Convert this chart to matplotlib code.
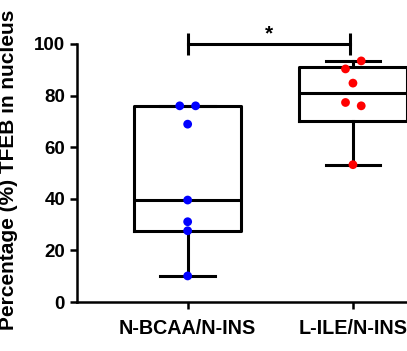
import numpy as np
import matplotlib
matplotlib.use('Agg')
import matplotlib.pyplot as plt

plt.rcParams['font.family'] = ['Liberation Sans', 'DejaVu Sans']
plt.rcParams['font.weight'] = 'bold'

# 数据
groups = ['N-BCAA/N-INS', 'L-ILE/N-INS']
bcaa = [76.0, 76.0, 68.9, 39.5, 31.1, 27.6, 10.1]
bcaa_jit = [-0.048, 0.048, 0, 0, 0, 0, 0]
ile = [93.4, 90.3, 84.8, 77.3, 76.0, 53.2]
ile_jit = [0.05, -0.045, 0, -0.045, 0.05, 0]
colors = ['blue', 'red']
ylabel = 'Percentage (%) TFEB in nucleus'
yticks = [0, 20, 40, 60, 80, 100]


def box_stats(vals, label):
    v = np.array(vals)
    q1, med, q3 = np.percentile(v, [25, 50, 75], method='weibull')
    return dict(med=med, q1=q1, q3=q3, whislo=v.min(), whishi=v.max(),
                fliers=[], label=label)


fig = plt.figure(figsize=(4.07, 3.51), dpi=100)
ax = fig.add_axes([0.189, 0.1396, 0.811, 0.8604])

lw = 2.2
stats = [box_stats(bcaa, groups[0]), box_stats(ile, groups[1])]
ax.bxp(stats, positions=[1, 2], widths=0.65, showfliers=False,
       boxprops=dict(linewidth=lw, color='black'),
       medianprops=dict(linewidth=lw, color='black'),
       whiskerprops=dict(linewidth=lw, color='black'),
       capprops=dict(linewidth=lw, color='black'),
       capwidths=0.33)

for i, (vals, jit) in enumerate([(bcaa, bcaa_jit), (ile, ile_jit)]):
    xs = np.array(jit) + i + 1
    ax.scatter(xs, vals, s=40, color=colors[i], zorder=3, edgecolors='none')

# 显著性标记
ax.plot([1, 1], [95.5, 104.2], color='black', lw=lw, solid_capstyle='butt')
ax.plot([1.98, 1.98], [95.5, 104.2], color='black', lw=lw, solid_capstyle='butt')
ax.plot([1, 1.98], [99.8, 99.8], color='black', lw=lw)
ax.text(1.49, 100.3, '*', ha='center', va='bottom', fontsize=15, fontweight='bold')

ax.set_xlim(0.33, 2.327)
ax.set_ylim(0, 117)
ax.set_yticks(yticks)
ax.set_xticks([1, 2])
ax.set_xticklabels(groups)
ax.spines['top'].set_visible(False)
ax.spines['right'].set_visible(False)
ax.spines['left'].set_bounds(0, 100)
ax.spines['left'].set_linewidth(1.8)
ax.spines['bottom'].set_linewidth(1.8)
ax.tick_params(width=1.8, length=5)
ax.tick_params(axis='y', labelsize=13.5)
ax.tick_params(axis='x', pad=7, labelsize=14.2)
ax.set_ylabel(ylabel, fontsize=15, fontweight='bold')
ax.yaxis.set_label_coords(-0.179, 0.437)

fig.savefig('out.png', dpi=100)
